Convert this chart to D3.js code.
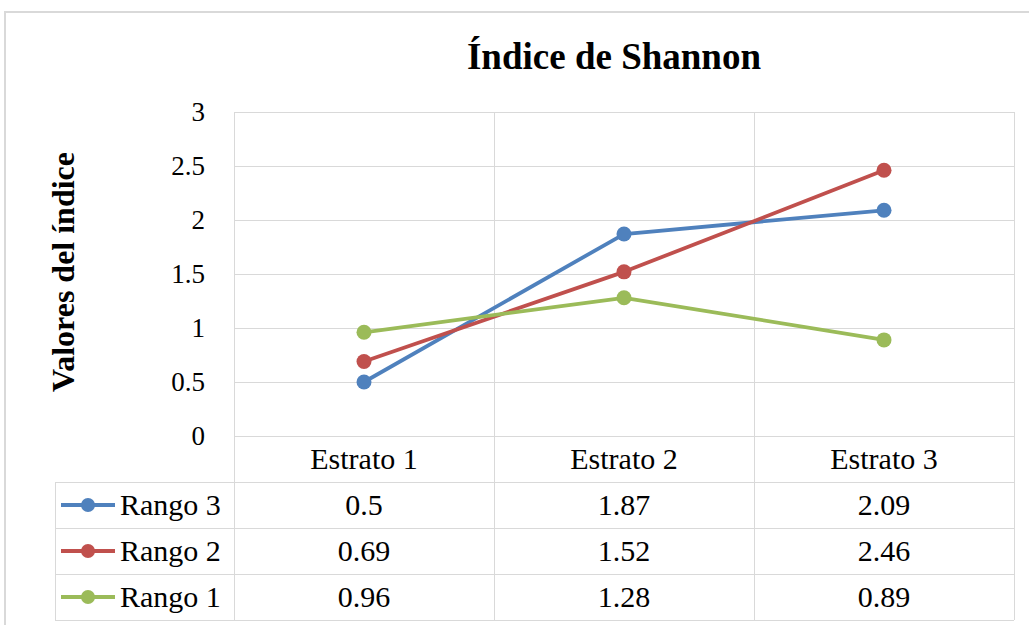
<!DOCTYPE html>
<html>
<head>
<meta charset="utf-8">
<script src="https://cdn.jsdelivr.net/npm/d3@7"></script>
<style>
	body { margin: 0; background: #fff; }
	svg { display: block; }
	text { font-family: "Liberation Serif", "Times New Roman", serif; fill: #000; }
</style>
</head>
<body>
<script>
// data
let categories = ['Estrato 1', 'Estrato 2', 'Estrato 3'];
let seriesNames = ['Rango 3', 'Rango 2', 'Rango 1'];
let rango3 = [0.5, 1.87, 2.09];
let rango2 = [0.69, 1.52, 2.46];
let rango1 = [0.96, 1.28, 0.89];
let yTicks = [0, 0.5, 1, 1.5, 2, 2.5, 3];
let colors = ['#4F81BD', '#C0504D', '#9BBB59'];

let seriesValues = [rango3, rango2, rango1];

let width = 1029, height = 625;
let plotLeft = 234, plotRight = 1014, plotTop = 112, plotBottom = 436;
let tableLeft = 55, rowH = 46;

let svg = d3.select('body').append('svg')
	.attr('width', width)
	.attr('height', height);

//outer chart border (runs off the picture right and bottom)
svg.append('path')
	.attr('d', 'M5,' + (height + 5) + 'V12H' + (width + 5))
	.attr('fill', 'none')
	.attr('stroke', '#d9d9d9')
	.attr('stroke-width', 2);

let xScale = d3.scaleBand()
	.domain(categories)
	.range([plotLeft, plotRight]);

let yScale = d3.scaleLinear()
	.domain([0, 3])
	.range([plotBottom, plotTop]);

let grid = '#d9d9d9';

//horizontal grid lines
svg.append('g')
	.selectAll('line')
	.data(yTicks)
	.enter()
	.append('line')
	.attr('x1', plotLeft)
	.attr('x2', plotRight)
	.attr('y1', function(d) { return Math.round(yScale(d)) + 0.5; })
	.attr('y2', function(d) { return Math.round(yScale(d)) + 0.5; })
	.attr('stroke', grid)
	.attr('stroke-width', 1);

//vertical lines through plot and header row of the table
let xEdges = categories.map(function(c) { return xScale(c); }).concat([plotRight]);
svg.append('g')
	.selectAll('line')
	.data(xEdges)
	.enter()
	.append('line')
	.attr('x1', function(d) { return d + 0.5; })
	.attr('x2', function(d) { return d + 0.5; })
	.attr('y1', plotTop)
	.attr('y2', plotBottom + rowH * 4)
	.attr('stroke', grid);

//table horizontal lines
let tableRows = [1, 2, 3, 4];
svg.append('g')
	.selectAll('line')
	.data(tableRows)
	.enter()
	.append('line')
	.attr('x1', tableLeft)
	.attr('x2', plotRight)
	.attr('y1', function(d) { return plotBottom + rowH * d + 0.5; })
	.attr('y2', function(d) { return plotBottom + rowH * d + 0.5; })
	.attr('stroke', grid);

svg.append('line')
	.attr('x1', tableLeft + 0.5)
	.attr('x2', tableLeft + 0.5)
	.attr('y1', plotBottom + rowH)
	.attr('y2', plotBottom + rowH * 4)
	.attr('stroke', grid);

//y tick labels
svg.append('g')
	.selectAll('text')
	.data(yTicks)
	.enter()
	.append('text')
	.attr('x', 205)
	.attr('y', function(d) { return yScale(d) + 9; })
	.attr('text-anchor', 'end')
	.attr('font-size', '27px')
	.text(function(d) { return d; });

//category labels in the header row
svg.append('g')
	.selectAll('text')
	.data(categories)
	.enter()
	.append('text')
	.attr('x', function(d) { return xScale(d) + xScale.bandwidth() / 2; })
	.attr('y', plotBottom + rowH / 2 + 10)
	.attr('text-anchor', 'middle')
	.attr('font-size', '30px')
	.text(function(d) { return d; });

//lines and markers
let line = d3.line()
	.x(function(d, i) { return xScale(categories[i]) + xScale.bandwidth() / 2; })
	.y(function(d) { return yScale(d); });

let groups = svg.append('g')
	.selectAll('g')
	.data(seriesValues)
	.enter()
	.append('g');

groups.append('path')
	.attr('d', function(d) { return line(d); })
	.attr('fill', 'none')
	.attr('stroke', function(d, i) { return colors[i]; })
	.attr('stroke-width', 3.8)
	.attr('stroke-linejoin', 'round');

groups.selectAll('circle')
	.data(function(d, i) { return d.map(function(v) { return {v: v, c: colors[i]}; }); })
	.enter()
	.append('circle')
	.attr('cx', function(d, i) { return xScale(categories[i]) + xScale.bandwidth() / 2; })
	.attr('cy', function(d) { return yScale(d.v); })
	.attr('r', 7.5)
	.attr('fill', function(d) { return d.c; });

//table rows: legend keys and values
let rows = svg.append('g')
	.selectAll('g')
	.data(seriesValues)
	.enter()
	.append('g')
	.attr('transform', function(d, i) {
		return 'translate(0,' + (plotBottom + rowH * (i + 1) + rowH / 2) + ')';
	});

rows.append('line')
	.attr('x1', 61)
	.attr('x2', 115)
	.attr('stroke', function(d, i) { return colors[i]; })
	.attr('stroke-width', 3.8);

rows.append('circle')
	.attr('cx', 88)
	.attr('r', 7)
	.attr('fill', function(d, i) { return colors[i]; });

rows.append('text')
	.attr('x', 120)
	.attr('y', 10)
	.attr('font-size', '30px')
	.text(function(d, i) { return seriesNames[i]; });

rows.selectAll('.val')
	.data(function(d) { return d; })
	.enter()
	.append('text')
	.attr('class', 'val')
	.attr('x', function(d, i) { return xScale(categories[i]) + xScale.bandwidth() / 2; })
	.attr('y', 10)
	.attr('text-anchor', 'middle')
	.attr('font-size', '30px')
	.text(function(d) { return d; });

//title
svg.append('text')
	.attr('x', 614)
	.attr('y', 69)
	.attr('text-anchor', 'middle')
	.attr('font-size', '37px')
	.attr('font-weight', 'bold')
	.text('Índice de Shannon');

//y axis title
svg.append('text')
	.attr('transform', 'translate(74,272) rotate(-90)')
	.attr('text-anchor', 'middle')
	.attr('font-size', '32px')
	.attr('font-weight', 'bold')
	.text('Valores del índice');
</script>
</body>
</html>
